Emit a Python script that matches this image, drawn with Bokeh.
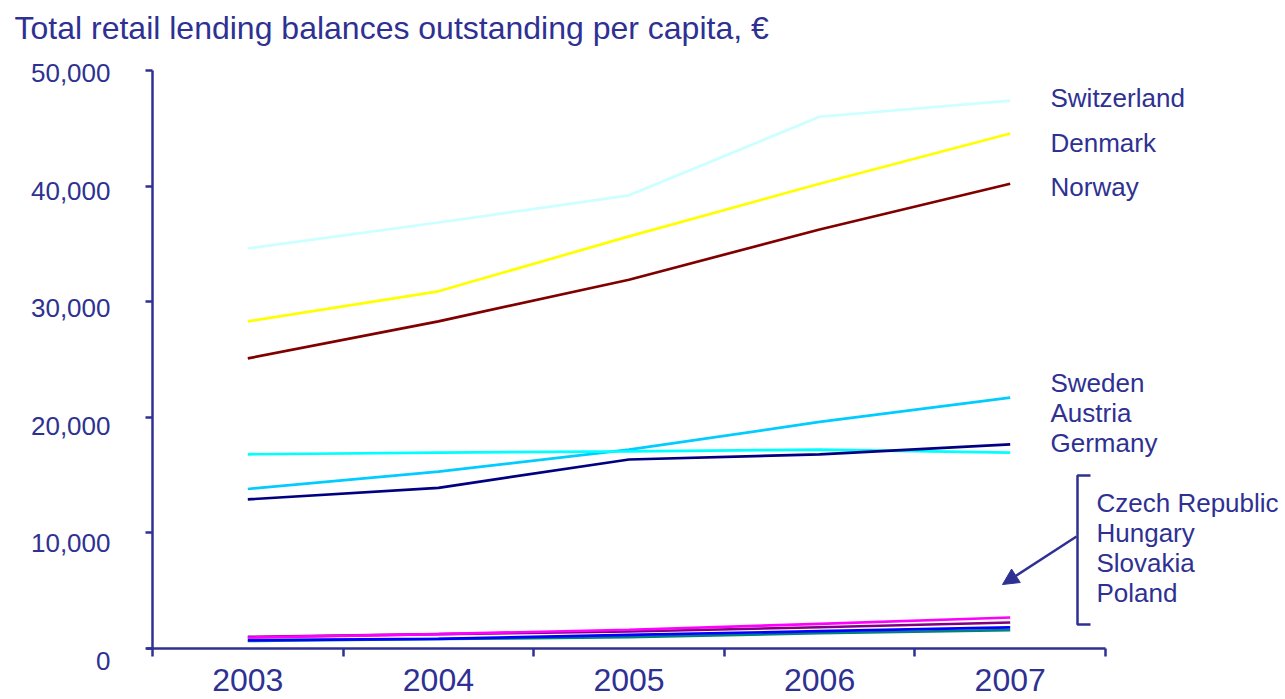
from bokeh.plotting import figure
from bokeh.models import (FixedTicker, Label, LabelSet, Arrow, NormalHead, Range1d,
                          ColumnDataSource)
from bokeh.core.properties import value
from bokeh.embed import file_html
from bokeh.resources import INLINE

# ---------------- data ----------------
years = [2003, 2004, 2005, 2006, 2007]
switzerland = [34600, 36850, 39200, 46000, 47400]
denmark = [28300, 30900, 35650, 40200, 44550]
norway = [25100, 28300, 31900, 36250, 40200]
sweden = [13800, 15300, 17200, 19600, 21700]
austria = [16800, 16950, 17050, 17200, 16950]
germany = [12900, 13900, 16350, 16800, 17650]
czech = [950, 1250, 1620, 2130, 2680]
hungary = [1000, 1240, 1470, 1840, 2250]
slovakia = [720, 840, 1180, 1500, 1820]
poland = [650, 820, 980, 1320, 1590]
y_ticks = [0, 10000, 20000, 30000, 40000, 50000]
y_tick_labels = ["0", "10,000", "20,000", "30,000", "40,000", "50,000"]
title_text = "Total retail lending balances outstanding per capita, \u20ac"

NAVY = "#2E3192"
FONT = "Liberation Sans"

# ---------------- layout (frame = whole canvas) ----------------
W, H = 1285, 699
AX_L, AX_R = 152, 1105      # pixel of x = 2002.5 / 2007.5
AX_B, AX_T = 648, 70        # pixel of y = 0 / 50000
X0, X1 = years[0] - 0.5, years[-1] + 0.5
Y0, Y1 = y_ticks[0], y_ticks[-1]
DX = (X1 - X0) / (AX_R - AX_L)
DY = (Y1 - Y0) / (AX_B - AX_T)
XS, XE = X0 - AX_L * DX, X1 + (W - AX_R) * DX
YS, YE = Y0 - (H - AX_B) * DY, Y1 + AX_T * DY


def px(xp, yp):
    """canvas pixel -> data coordinates"""
    return XS + xp * DX, YE - yp * DY


p = figure(width=W, height=H, x_range=Range1d(XS, XE), y_range=Range1d(YS, YE),
           output_backend="svg", toolbar_location=None,
           min_border_left=0, min_border_right=0, min_border_top=0, min_border_bottom=0)
p.title.visible = False
p.outline_line_color = None
p.grid.visible = False
p.background_fill_color = "white"
p.border_fill_color = "white"

# y axis (tick marks only; labels drawn below as a label set)
ya = p.yaxis[0]
ya.fixed_location = X0
ya.bounds = (Y0, Y1)
ya.ticker = FixedTicker(ticks=[], minor_ticks=y_ticks)
ya.axis_line_color = NAVY
ya.axis_line_width = 2.5
ya.major_tick_line_color = None
ya.minor_tick_line_color = NAVY
ya.minor_tick_line_width = 2.5
ya.minor_tick_out = 7
ya.minor_tick_in = 0

# y tick labels (slightly looser spacing than the ticks, as in the original)
lab_x = px(110, 0)[0]
lab_y = [v - (2.5 + (Y1 - v) / 10000 * 1.9) * DY for v in y_ticks]
ysrc = ColumnDataSource(dict(x=[lab_x] * len(y_ticks), y=lab_y, t=y_tick_labels))
p.add_layout(LabelSet(x="x", y="y", text="t", source=ysrc, text_align="right",
                      text_baseline="middle", text_color=NAVY,
                      text_font=value(FONT), text_font_size="26px"))

# x axis: category boundaries as (minor) ticks, labels at the years
xa = p.xaxis[0]
xa.fixed_location = Y0
xa.bounds = (X0 - 6 * DX, X1)
xa.ticker = FixedTicker(ticks=years, minor_ticks=[y - 0.5 for y in years] + [years[-1] + 0.5])
xa.axis_line_color = NAVY
xa.axis_line_width = 2.5
xa.major_tick_line_color = None
xa.major_tick_out = 8
xa.major_tick_in = 0
xa.minor_tick_line_color = NAVY
xa.minor_tick_line_width = 2.5
xa.minor_tick_out = 8
xa.minor_tick_in = 0
xa.major_label_text_color = NAVY
xa.major_label_text_font = FONT
xa.major_label_text_font_size = "32px"
xa.major_label_standoff = 12

# series
series = [
    ("Switzerland", switzerland, "#CCFFFF"),
    ("Denmark", denmark, "#FFFF00"),
    ("Norway", norway, "#800000"),
    ("Sweden", sweden, "#00CCFF"),
    ("Austria", austria, "#00FFFF"),
    ("Germany", germany, "#000080"),
    ("Poland", poland, "#008080"),
    ("Slovakia", slovakia, "#0000FF"),
    ("Hungary", hungary, "#800080"),
    ("Czech Republic", czech, "#FF00FF"),
]
for name, vals, col in series:
    p.line(years, vals, line_color=col, line_width=2.7)

# title
tx, ty = px(14, 27)
p.add_layout(Label(x=tx, y=ty, text=title_text, text_align="left", text_baseline="middle",
                   text_color=NAVY, text_font=FONT, text_font_size="32px"))

# right-side labels
right_labels = [
    ("Switzerland", 1050, 97), ("Denmark", 1050, 142), ("Norway", 1050, 186),
    ("Sweden", 1050, 382), ("Austria", 1050, 412), ("Germany", 1050, 442),
    ("Czech Republic", 1096, 502), ("Hungary", 1096, 532),
    ("Slovakia", 1096, 562), ("Poland", 1096, 592),
]
for txt, xp, yp in right_labels:
    lx, ly = px(xp, yp)
    p.add_layout(Label(x=lx, y=ly, text=txt, text_align="left", text_baseline="middle",
                       text_color=NAVY, text_font=FONT, text_font_size="26px"))

# bracket
bx_in, by_top = px(1077, 475)
bx_out, by_bot = px(1090, 624)
p.line([bx_out, bx_in, bx_in, bx_out], [by_top, by_top, by_bot, by_bot],
       line_color=NAVY, line_width=2.5)

# arrow
ax0, ay0 = px(1076, 536)
ax1, ay1 = px(1002, 584)
p.add_layout(Arrow(end=NormalHead(size=16, fill_color=NAVY, line_color=NAVY),
                   x_start=ax0, y_start=ay0, x_end=ax1, y_end=ay1,
                   line_color=NAVY, line_width=2.5))

open("out.html", "w").write(file_html(p, INLINE))
